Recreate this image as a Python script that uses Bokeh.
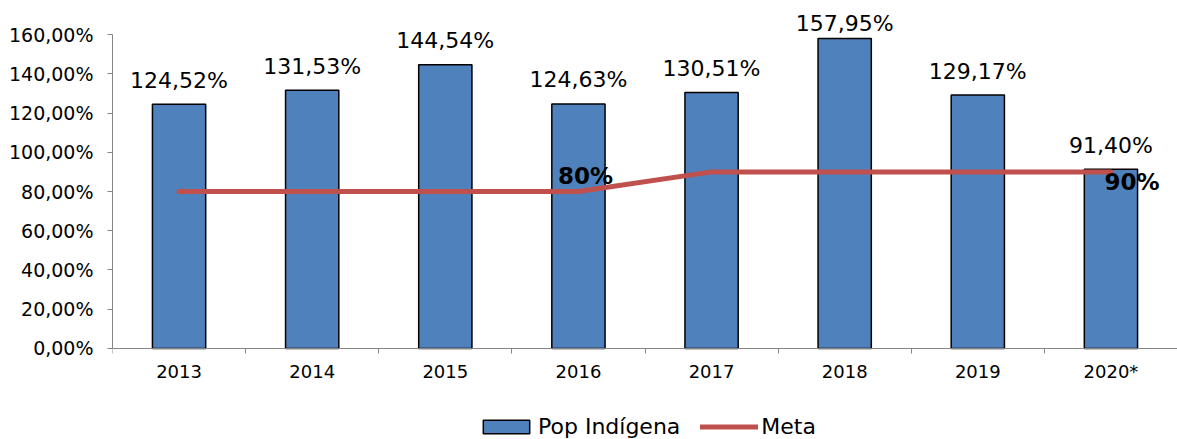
import numpy as np
from bokeh.plotting import figure
from bokeh.models import Range1d, FixedTicker, Legend, LegendItem
from bokeh.core.properties import value
from bokeh.embed import file_html
from bokeh.resources import INLINE

# ---- data ----
years = ["2013", "2014", "2015", "2016", "2017", "2018", "2019", "2020*"]
pop_indigena = [124.52, 131.53, 144.54, 124.63, 130.51, 157.95, 129.17, 91.40]
meta = [80, 80, 80, 80, 90, 90, 90, 90]
meta_labels = {3: "80%", 7: "90%"}
y_ticks = [0, 20, 40, 60, 80, 100, 120, 140, 160]


def pct(v):
    return f"{v:.2f}".replace(".", ",") + "%"


FONT = value("DejaVu Sans")
AXIS_GRAY = "#868686"

x = np.arange(len(years)) + 0.5

p = figure(width=1177, height=439,
           x_range=Range1d(0, len(years)), y_range=Range1d(-46.37, 172.23),
           output_backend="svg", toolbar_location=None,
           min_border_left=112, min_border_right=0,
           min_border_top=10, min_border_bottom=0)
p.grid.visible = False
p.outline_line_color = None
p.background_fill_color = "white"
p.border_fill_color = "white"

bars = p.vbar(x=x, top=pop_indigena, width=0.4, fill_color="#4F81BD",
              line_color="black", line_width=1.5)
line = p.line(x, meta, line_color="#C0504D", line_width=5,
              line_join="round", line_cap="round")

# value labels above bars (kept inside the plot area at the top)
label_y = np.minimum(np.array(pop_indigena), 153.4)
p.text(x=x, y=label_y, text=[pct(v) for v in pop_indigena],
       text_align="center", text_baseline="alphabetic", y_offset=-24,
       text_font=FONT, text_font_size="22px", text_color="black")

# meta labels
p.text(x=[x[3]], y=[meta[3]], text=[meta_labels[3]],
       text_align="center", text_baseline="alphabetic",
       x_offset=7, y_offset=-16, text_font=FONT, text_font_size="23px",
       text_font_style="bold", text_color="black")
p.text(x=[x[7]], y=[meta[7]], text=[meta_labels[7]],
       text_align="center", text_baseline="alphabetic",
       x_offset=21, y_offset=10, text_font=FONT, text_font_size="23px",
       text_font_style="bold", text_color="black")

# y axis
ya = p.yaxis[0]
ya.bounds = (0, 160)
ya.ticker = FixedTicker(ticks=y_ticks, minor_ticks=[])
ya.major_label_overrides = {t: pct(t) for t in y_ticks}
ya.axis_line_color = AXIS_GRAY
ya.major_tick_line_color = AXIS_GRAY
ya.major_tick_out = 5
ya.major_tick_in = 0
ya.major_label_standoff = 14
ya.major_label_text_font = "DejaVu Sans"
ya.major_label_text_font_size = "19px"
ya.major_label_text_color = "black"

# x axis at y = 0: labels at category centres, ticks at boundaries
xa = p.xaxis[0]
xa.fixed_location = 0
xa.ticker = FixedTicker(ticks=[float(v) for v in x],
                        minor_ticks=list(range(len(years) + 1)))
xa.major_label_overrides = {float(v): yr for v, yr in zip(x, years)}
xa.axis_line_color = AXIS_GRAY
xa.major_tick_line_color = None
xa.major_tick_out = 0
xa.major_tick_in = 0
xa.minor_tick_line_color = AXIS_GRAY
xa.minor_tick_out = 5
xa.minor_tick_in = 0
xa.major_label_standoff = 8
xa.major_label_text_font = "DejaVu Sans"
xa.major_label_text_font_size = "18px"
xa.major_label_text_color = "black"

legend = Legend(items=[LegendItem(label="Pop Indígena", renderers=[bars]),
                       LegendItem(label="Meta", renderers=[line])],
                orientation="horizontal", location=(365, 0),
                padding=0, margin=0, spacing=20, glyph_width=58,
                glyph_height=17, label_standoff=3,
                label_text_font="DejaVu Sans", label_text_font_size="22px",
                label_text_color="black",
                border_line_color=None, background_fill_alpha=0)
p.add_layout(legend)

open("out.html", "w").write(file_html(p, INLINE))
